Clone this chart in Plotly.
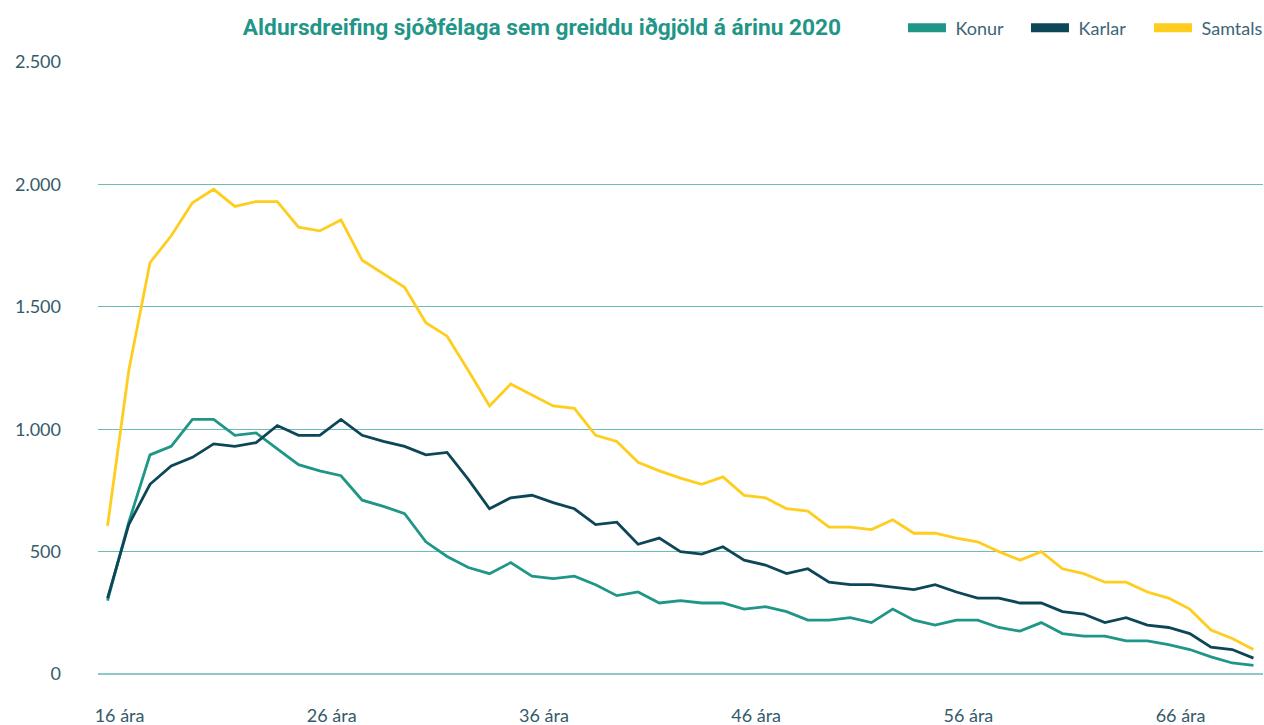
import plotly.graph_objects as go

# Aldur 16-70 ára
ages = list(range(16, 71))
tick_ages = [16, 26, 36, 46, 56, 66]
tick_labels = [f"{a} ára" for a in tick_ages]

konur = [300, 620, 895, 930, 1040, 1040, 975, 985, 920, 855,
         830, 810, 710, 685, 655, 540, 480, 435, 410, 455,
         400, 390, 400, 365, 320, 335, 290, 300, 290, 290,
         265, 275, 255, 220, 220, 230, 210, 265, 220, 200,
         220, 220, 190, 175, 210, 165, 155, 155, 135, 135,
         120, 100, 70, 45, 35]
karlar = [310, 610, 775, 850, 885, 940, 930, 945, 1015, 975,
          975, 1040, 975, 950, 930, 895, 905, 795, 675, 720,
          730, 700, 675, 610, 620, 530, 555, 500, 490, 520,
          465, 445, 410, 430, 375, 365, 365, 355, 345, 365,
          335, 310, 310, 290, 290, 255, 245, 210, 230, 200,
          190, 165, 110, 100, 65]
samtals = [605, 1240, 1680, 1790, 1925, 1980, 1910, 1930, 1930, 1825,
           1810, 1855, 1690, 1635, 1580, 1435, 1380, 1240, 1095, 1185,
           1140, 1095, 1085, 975, 950, 865, 830, 800, 775, 805,
           730, 720, 675, 665, 600, 600, 590, 630, 575, 575,
           555, 540, 500, 465, 500, 430, 410, 375, 375, 335,
           310, 265, 180, 145, 100]

series = [("Konur", konur, "#1f9687"),
          ("Karlar", karlar, "#0d4658"),
          ("Samtals", samtals, "#ffcd1e")]

fig = go.Figure()
for name, vals, col in series:
    fig.add_trace(go.Scatter(x=ages, y=vals, mode="lines", name=name,
                             line=dict(color=col, width=2.8),
                             showlegend=False, hoverinfo="x+y"))
# þykkari tákn í skýringu
for name, vals, col in series:
    fig.add_trace(go.Scatter(x=[None], y=[None], mode="lines", name="\u00a0" + name,
                             line=dict(color=col, width=9)))

fig.update_layout(
    width=1264, height=725,
    margin=dict(l=98, r=1, t=62, b=51, autoexpand=False),
    paper_bgcolor="white", plot_bgcolor="white",
    separators=",.",
    font=dict(family="Lato, Open Sans, sans-serif", size=18, color="#335b6b"),
    title=dict(text="<b>Aldursdreifing sjóðfélaga sem greiddu iðgjöld á árinu 2020</b>",
               font=dict(family="Roboto, sans-serif", size=22.7, color="#1f9687"),
               x=542 / 1264, xanchor="center", y=1 - 27 / 725, yanchor="middle"),
    legend=dict(orientation="h", x=1.0077, xanchor="right", y=1 - 28 / 725, yanchor="middle",
                yref="container", font=dict(size=18, color="#3d6577"),
                itemwidth=38, entrywidth=70, bgcolor="rgba(0,0,0,0)"),
    xaxis=dict(range=[15.55, 70.45], tickvals=tick_ages, ticktext=tick_labels,
               showgrid=False, zeroline=False, showline=False,
               ticklabelshift=12, ticklabelstandoff=29),
    yaxis=dict(range=[0, 2500], tickvals=[0, 500, 1000, 1500, 2000, 2500],
               tickformat=",d", showgrid=True, gridcolor="#6bbdb5", gridwidth=1,
               zeroline=True, zerolinecolor="#8ccbc5", zerolinewidth=2,
               showline=False, ticklabelstandoff=36),
)

fig.write_html("out.html", config={"displayModeBar": False},
               post_script="document.body.style.margin='0';")
